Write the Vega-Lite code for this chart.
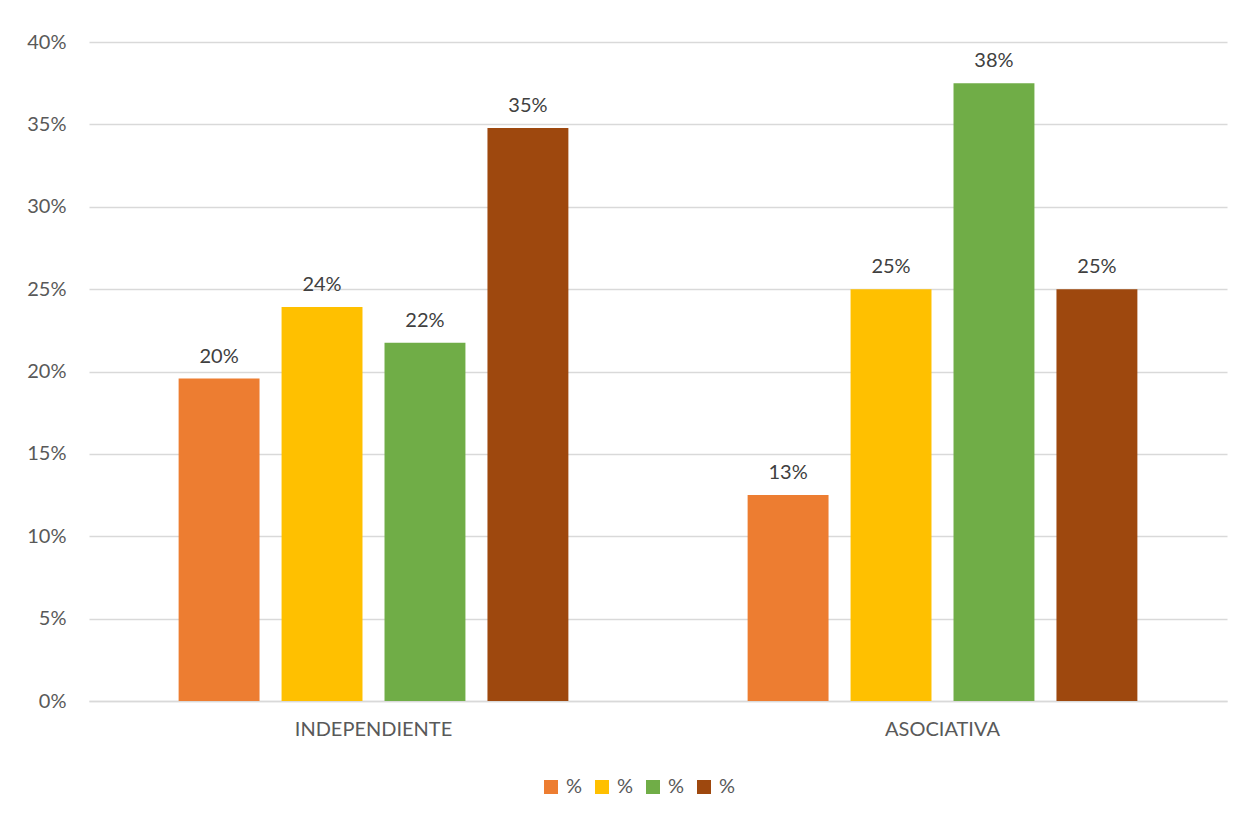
{
  "$schema": "https://vega.github.io/schema/vega-lite/v6.json",
  "width": 1138,
  "height": 659,
  "autosize": "none",
  "padding": {"left": 89, "top": 42, "right": 20, "bottom": 113},
  "background": "white",
  "config": {
    "view": {"stroke": null},
    "font": "Lato"
  },
  "data": {
    "values": [
      {"grupo": "INDEPENDIENTE", "serie": "s1", "valor": 0.1957},
      {"grupo": "INDEPENDIENTE", "serie": "s2", "valor": 0.2391},
      {"grupo": "INDEPENDIENTE", "serie": "s3", "valor": 0.2174},
      {"grupo": "INDEPENDIENTE", "serie": "s4", "valor": 0.3478},
      {"grupo": "ASOCIATIVA", "serie": "s1", "valor": 0.125},
      {"grupo": "ASOCIATIVA", "serie": "s2", "valor": 0.25},
      {"grupo": "ASOCIATIVA", "serie": "s3", "valor": 0.375},
      {"grupo": "ASOCIATIVA", "serie": "s4", "valor": 0.25}
    ]
  },
  "encoding": {
    "x": {
      "field": "grupo",
      "type": "nominal",
      "sort": ["INDEPENDIENTE", "ASOCIATIVA"],
      "scale": {"paddingInner": 0.315, "paddingOuter": 0.1575},
      "axis": {
        "title": null,
        "labelAngle": 0,
        "labelFontSize": 20,
        "labelColor": "#595959",
        "labelPadding": 18,
        "ticks": false,
        "domainColor": "#d9d9d9",
        "domainWidth": 1.5,
        "grid": false
      }
    },
    "xOffset": {
      "field": "serie",
      "type": "nominal",
      "scale": {"paddingInner": 0.214, "paddingOuter": 0}
    },
    "y": {
      "field": "valor",
      "type": "quantitative",
      "scale": {"domain": [0, 0.4]},
      "axis": {
        "title": null,
        "format": ".0%",
        "values": [0, 0.05, 0.1, 0.15, 0.2, 0.25, 0.3, 0.35, 0.4],
        "labelFontSize": 20,
        "labelColor": "#595959",
        "labelPadding": 23,
        "ticks": false,
        "domain": false,
        "gridColor": "#d9d9d9",
        "gridWidth": 1.5
      }
    }
  },
  "layer": [
    {
      "mark": {"type": "bar"},
      "encoding": {
        "color": {
          "field": "serie",
          "type": "nominal",
          "scale": {"domain": ["s1", "s2", "s3", "s4"], "range": ["#ED7D31", "#FFC000", "#70AD47", "#9E480E"]},
          "legend": {
            "title": null,
            "orient": "none",
            "direction": "horizontal",
            "legendX": 452,
            "legendY": 735,
            "labelExpr": "'%'",
            "symbolType": "square",
            "symbolSize": 196,
            "symbolStrokeWidth": 0,
            "symbolOpacity": 1,
            "labelFontSize": 20,
            "labelColor": "#595959",
            "labelOffset": 5,
            "columnPadding": 9,
            "padding": 0
          }
        }
      }
    },
    {
      "mark": {"type": "text", "baseline": "bottom", "dy": -12, "fontSize": 20, "color": "#404040"},
      "encoding": {
        "text": {"field": "valor", "type": "quantitative", "format": ".0%"}
      }
    }
  ]
}
